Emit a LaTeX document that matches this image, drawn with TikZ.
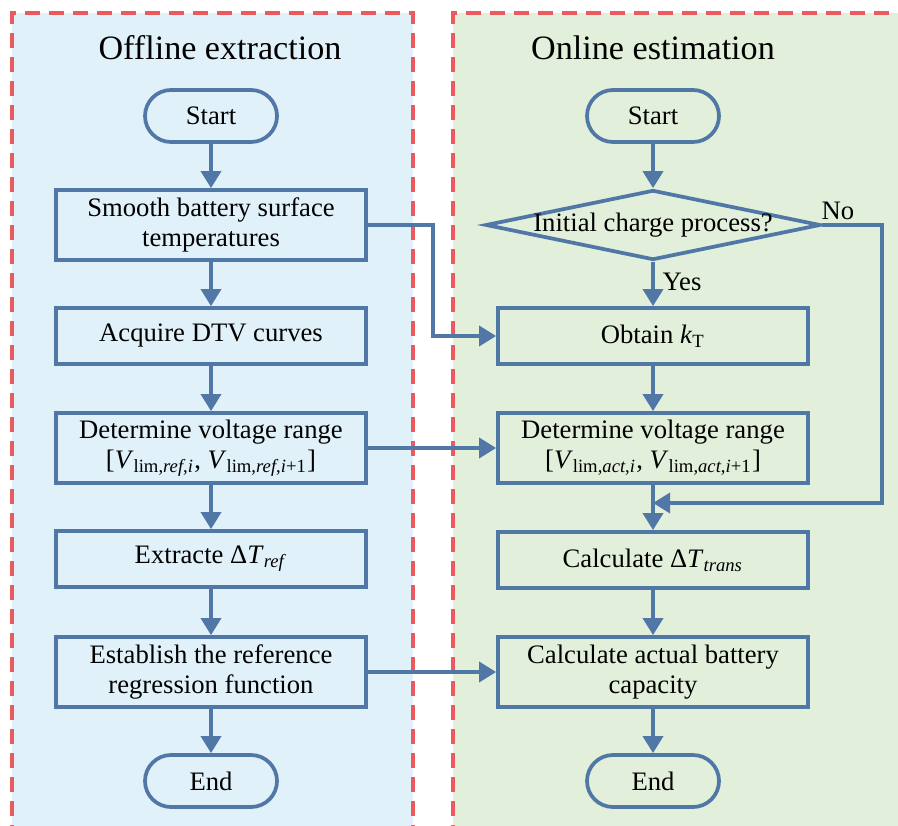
\documentclass[tikz,border=0pt]{standalone}
\usepackage{fontspec}
\setmainfont{Liberation Serif}
\usetikzlibrary{arrows.meta,shapes.geometric,shapes.misc}
\definecolor{flowblue}{RGB}{80,119,165}
\definecolor{panelred}{RGB}{236,90,95}
\definecolor{offbg}{RGB}{225,241,249}
\definecolor{onbg}{RGB}{226,239,218}
\tikzset{
  process/.style={draw=flowblue, line width=1.4pt, minimum width=116.25pt, minimum height=21pt, align=center, inner sep=0pt},
  tallbox/.style={minimum height=26.25pt},
  terminal/.style={draw=flowblue, line width=1.4pt, rounded rectangle, minimum width=49.5pt, minimum height=19.5pt, inner sep=0pt},
  decision/.style={draw=flowblue, line width=1.4pt, diamond, minimum width=125.6pt, minimum height=26.25pt, inner sep=0pt},
  flow/.style={draw=flowblue, line width=1.4pt, -{Triangle[length=6.4pt,width=7.5pt]}},
  panel/.style={draw=panelred, line width=1.5pt, dash pattern=on 5.5pt off 3.5pt},
  title/.style={font=\fontsize{12.8}{15}\selectfont}
}
\begin{document}
\begin{tikzpicture}[x=0.375pt, y=-0.375pt, font=\fontsize{10}{11.25}\selectfont]
        \clip (0,0) rectangle (898,826);

        % 两个背景区域
        \fill[offbg] (12,13) rectangle (413,840);
        \fill[onbg] (453,13) rectangle (910,840);
        \draw[panel] (12,840) -- (12,13) -- (413,13) -- (413,840);
        \draw[panel] (453,840) -- (453,13) -- (910,13);
        \node[title] (offtitle) at (220,48) {Offline extraction};
        \node[title] (ontitle) at (653,48) {Online estimation};

        % 左侧流程
        \node[terminal] (start1) at (211,116) {Start};
        \node[process,tallbox] (smooth) at (211,225) {Smooth battery surface\\temperatures};
        \node[process] (dtv) at (211,336) {Acquire DTV curves};
        \node[process,tallbox] (rangeref) at (211,448) {Determine voltage range\\{[}\textit{V}\textsubscript{lim,\textit{ref},\textit{i}}, \textit{V}\textsubscript{lim,\textit{ref},\textit{i}+1}]};
        \node[process] (extract) at (211,559) {Extracte Δ\textit{T}\textsubscript{\textit{ref}}};
        \node[process,tallbox] (regress) at (211,672) {Establish the reference\\regression function};
        \node[terminal] (end1) at (211,781) {End};

        % 右侧流程
        \node[terminal] (start2) at (653,116) {Start};
        \node[decision] (charge) at (653,225) {\makebox[0pt]{Initial charge process?}};
        \node[process] (obtain) at (653,336) {Obtain \textit{k}\textsubscript{T}};
        \node[process,tallbox] (rangeact) at (653,448) {Determine voltage range\\{[}\textit{V}\textsubscript{lim,\textit{act},\textit{i}}, \textit{V}\textsubscript{lim,\textit{act},\textit{i}+1}]};
        \node[process] (trans) at (653,560) {Calculate Δ\textit{T}\textsubscript{\textit{trans}}};
        \node[process,tallbox] (capacity) at (653,672) {Calculate actual battery\\capacity};
        \node[terminal] (end2) at (653,781) {End};
        \node (nolabel) at (838,211) {No};
        \node (yeslabel) at (682,282) {Yes};
        \coordinate (merge) at (653,503);

        % 连接线
        \draw[flow] (start1) -- (smooth);
        \draw[flow] (smooth) -- (dtv);
        \draw[flow] (dtv) -- (rangeref);
        \draw[flow] (rangeref) -- (extract);
        \draw[flow] (extract) -- (regress);
        \draw[flow] (regress) -- (end1);
        \draw[flow] (start2) -- (charge);
        \draw[flow] (charge) -- (obtain);
        \draw[flow] (obtain) -- (rangeact);
        \draw[flow] (rangeact) -- (trans);
        \draw[flow] (trans) -- (capacity);
        \draw[flow] (capacity) -- (end2);
        \draw[flow] (charge.east) -- (882,225) |- (merge);
        \draw[flow] (smooth.east) -- (433,225) |- (obtain.west);
        \draw[flow] (rangeref) -- (rangeact);
        \draw[flow] (regress) -- (capacity);
    \end{tikzpicture}
\end{document}
